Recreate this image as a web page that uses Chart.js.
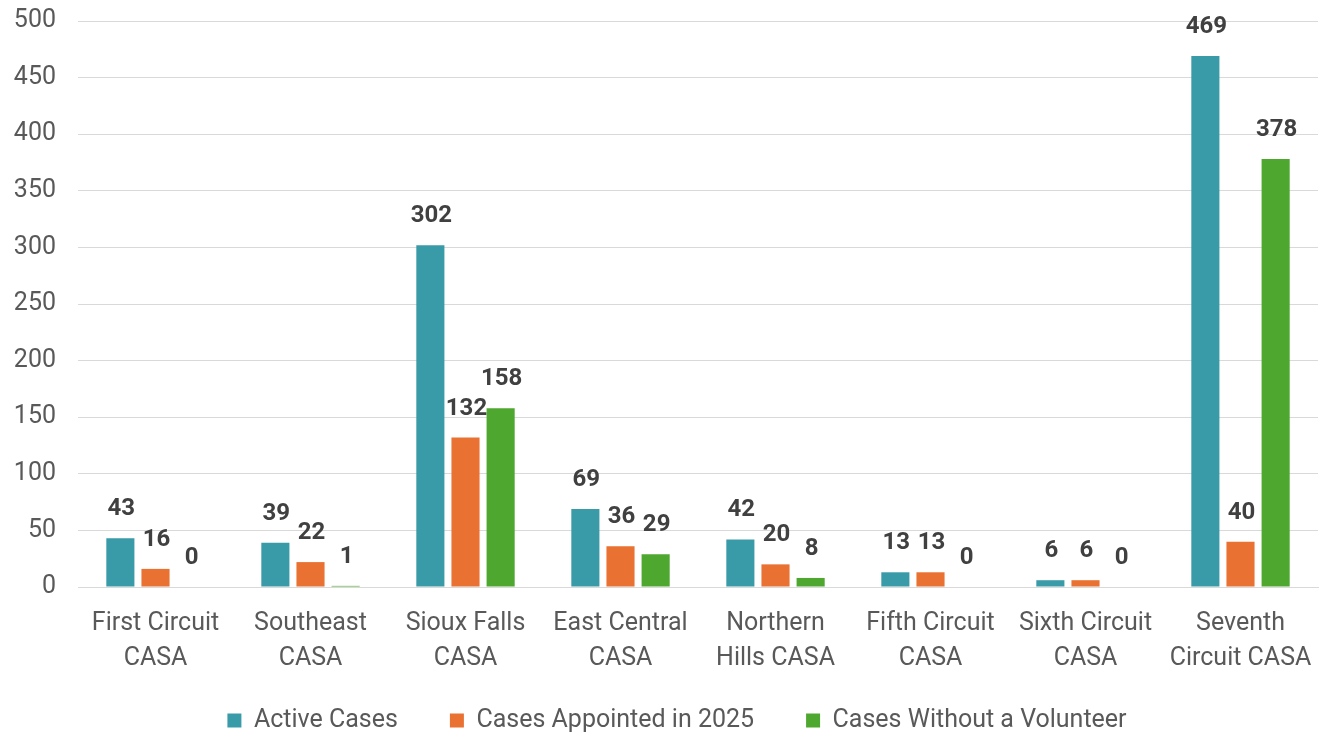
<!DOCTYPE html>
<html>
<head>
<meta charset="utf-8">
<script src="https://cdn.jsdelivr.net/npm/chart.js@4"></script>
<style>
  html, body { margin: 0; padding: 0; background: #fff; }
  #wrap { width: 1322px; height: 734px; }
</style>
</head>
<body>
<div id="wrap"><canvas id="chart"></canvas></div>
<script>
const categories = [
  ['First Circuit', 'CASA'],
  ['Southeast', 'CASA'],
  ['Sioux Falls', 'CASA'],
  ['East Central', 'CASA'],
  ['Northern', 'Hills CASA'],
  ['Fifth Circuit', 'CASA'],
  ['Sixth Circuit', 'CASA'],
  ['Seventh', 'Circuit CASA']
];
const activeCases = [43, 39, 302, 69, 42, 13, 6, 469];
const appointed2025 = [16, 22, 132, 36, 20, 13, 6, 40];
const withoutVolunteer = [0, 1, 158, 29, 8, 0, 0, 378];
const seriesNames = ['Active Cases', 'Cases Appointed in 2025', 'Cases Without a Volunteer'];
const seriesColors = ['#3A9BA8', '#E97132', '#4EA72E'];

const FONT = 'Roboto, "Liberation Sans", sans-serif';

// draws the bold value above each bar
const valueLabels = {
  id: 'valueLabels',
  afterDatasetsDraw(chart) {
    const ctx = chart.ctx;
    ctx.save();
    ctx.font = 'bold 24px ' + FONT;
    ctx.fillStyle = '#404040';
    ctx.textAlign = 'center';
    ctx.textBaseline = 'middle';
    chart.data.datasets.forEach((ds, i) => {
      chart.getDatasetMeta(i).data.forEach((bar, j) => {
        ctx.fillText(String(ds.data[j]), bar.x + 1, bar.y - 29);
      });
    });
    ctx.restore();
  }
};

// tick labels may spill outside their (tightened) scale boxes
const noLabelClip = {
  id: 'noLabelClip',
  beforeDraw(chart) {
    Object.values(chart.scales).forEach(s => { s._computeLabelArea = () => undefined; });
  }
};

new Chart(document.getElementById('chart'), {
  type: 'bar',
  data: {
    labels: categories,
    datasets: [0, 1, 2].map(i => ({
      label: seriesNames[i],
      data: [activeCases, appointed2025, withoutVolunteer][i],
      backgroundColor: seriesColors[i],
      categoryPercentage: 0.68,
      barPercentage: 0.8
    }))
  },
  options: {
    responsive: true,
    maintainAspectRatio: false,
    animation: false,
    layout: { padding: { left: 36, right: 4, top: 21, bottom: 0 } },
    scales: {
      x: {
        grid: { display: false, drawTicks: false },
        border: { display: true, color: '#d9d9d9' },
        ticks: { color: '#595959', font: { family: FONT, size: 25, lineHeight: 1.4 }, padding: 19, maxRotation: 0 },
        afterFit(scale) { scale.height = 69; scale.paddingLeft = 0; scale.paddingRight = 0; }
      },
      y: {
        min: 0,
        max: 500,
        grid: { color: '#d9d9d9', drawTicks: false },
        border: { display: false },
        ticks: { stepSize: 50, color: '#595959', font: { family: FONT, size: 25 }, padding: 22 },
        afterFit(scale) { scale.width = 42; scale.paddingTop = 0; scale.paddingBottom = 0; }
      }
    },
    plugins: {
      legend: {
        position: 'bottom',
        maxHeight: 78,
        labels: {
          color: '#595959',
          font: { family: FONT, size: 25 },
          boxWidth: 14,
          boxHeight: 14,
          padding: 52
        }
      },
      tooltip: { enabled: false }
    }
  },
  plugins: [valueLabels, noLabelClip]
});
</script>
</body>
</html>
